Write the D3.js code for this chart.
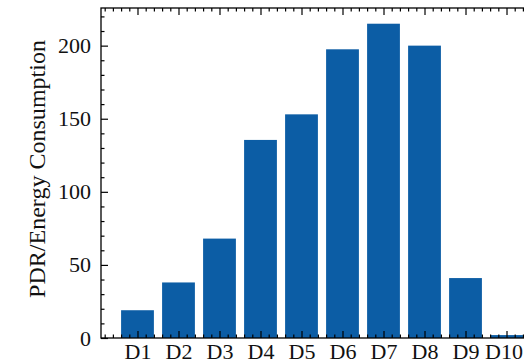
<!DOCTYPE html>
<html lang="en">
<head>
  <meta charset="UTF-8">
  <title>PDR / Energy Consumption</title>
  <style>
    * { margin: 0; box-sizing: border-box; }
    body { background: #fff; overflow: hidden; }
    svg { display: block; font-family: "Liberation Serif", "DejaVu Serif", serif; }
    .axis path { display: none; }
    .axis line { stroke: #000; stroke-width: 1.2; }
    .axis text { font-size: 22px; fill: #111; font-family: "Liberation Serif", serif; }
  </style>
</head>
<body>
  <svg></svg>
  <script src="https://d3js.org/d3.v7.min.js"></script>
  <script>
    const categories = ['D1', 'D2', 'D3', 'D4', 'D5', 'D6', 'D7', 'D8', 'D9', 'D10'];
    const values = [19, 38, 68, 135.5, 153, 197.5, 215, 200, 41, 2];
    const yTicks = [0, 50, 100, 150, 200];

    const width = 524;
    const height = 364;
    // plot box; right edge runs past the window like the reference
    const plotLeft = 101, plotTop = 8, plotBottom = 338, plotRight = 543;

    const svg = d3.select('svg')
      .attr('width', width)
      .attr('height', height);

    const x = d3.scaleLinear()
      .domain([-0.89, categories.length - 1 + 0.89])
      .range([plotLeft, plotRight]);
    const y = d3.scaleLinear()
      .domain([0, d3.max(values) * 1.05])
      .range([plotBottom, plotTop]);

    const barW = 0.8;

    svg.append('g')
      .selectAll('rect')
      .data(values)
      .enter()
      .append('rect')
      .attr('x', (d, i) => x(i - barW / 2))
      .attr('width', (d, i) => x(i + barW / 2) - x(i - barW / 2))
      .attr('y', d => y(d))
      .attr('height', d => y(0) - y(d))
      .attr('fill', '#0C5DA5');

    const xMajor = d3.range(categories.length);
    const xMinor = d3.range(-0.8, categories.length + 0.9, 0.2)
      .filter(v => Math.abs(v - Math.round(v)) > 0.01);
    const yMinor = d3.range(0, y.domain()[1], 10).filter(v => v % 50 !== 0);

    // bottom axis with labels
    const xAxisG = svg.append('g')
      .attr('class', 'axis')
      .attr('transform', 'translate(0,' + plotBottom + ')')
      .call(d3.axisBottom(x)
        .tickValues(xMajor)
        .tickFormat(i => categories[i])
        .tickSize(-7)
        .tickPadding(5));
    // last label sits at the window edge, keep it inside
    xAxisG.selectAll('text')
      .filter(i => i === categories.length - 1)
      .attr('dx', -3);
    svg.append('g')
      .attr('class', 'axis')
      .attr('transform', 'translate(0,' + plotBottom + ')')
      .call(d3.axisBottom(x).tickValues(xMinor).tickFormat('').tickSize(-3.5));

    // top axis, ticks only
    svg.append('g')
      .attr('class', 'axis')
      .attr('transform', 'translate(0,' + plotTop + ')')
      .call(d3.axisTop(x).tickValues(xMajor).tickFormat('').tickSize(-7));
    svg.append('g')
      .attr('class', 'axis')
      .attr('transform', 'translate(0,' + plotTop + ')')
      .call(d3.axisTop(x).tickValues(xMinor).tickFormat('').tickSize(-3.5));

    // left axis
    svg.append('g')
      .attr('class', 'axis')
      .attr('transform', 'translate(' + plotLeft + ',0)')
      .call(d3.axisLeft(y)
        .tickValues(yTicks)
        .tickSize(-7)
        .tickPadding(10));
    svg.append('g')
      .attr('class', 'axis')
      .attr('transform', 'translate(' + plotLeft + ',0)')
      .call(d3.axisLeft(y).tickValues(yMinor).tickFormat('').tickSize(-3.5));

    // right axis ticks (mostly off screen)
    svg.append('g')
      .attr('class', 'axis')
      .attr('transform', 'translate(' + plotRight + ',0)')
      .call(d3.axisRight(y).tickValues(yTicks).tickFormat('').tickSize(-7));

    // spines
    svg.append('rect')
      .attr('x', plotLeft)
      .attr('y', plotTop)
      .attr('width', plotRight - plotLeft)
      .attr('height', plotBottom - plotTop)
      .attr('fill', 'none')
      .attr('stroke', '#000')
      .attr('stroke-width', 1.3);

    svg.append('text')
      .attr('transform', 'translate(45,169) rotate(-90)')
      .attr('text-anchor', 'middle')
      .attr('textLength', 258)
      .attr('lengthAdjust', 'spacing')
      .style('font-size', '24px')
      .style('fill', '#111')
      .text('PDR/Energy Consumption');
  </script>
</body>
</html>
